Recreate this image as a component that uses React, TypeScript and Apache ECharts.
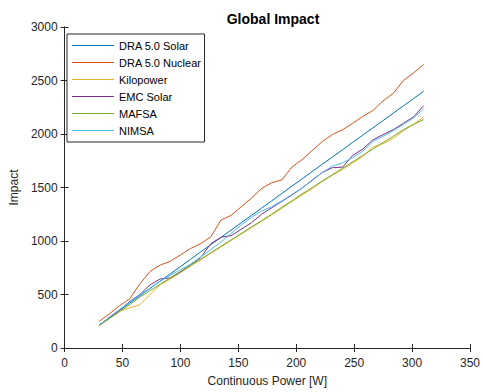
import React, { useEffect, useRef } from "react";
import * as echarts from "echarts";

const powerW = [
  30, 38.75, 47.5, 56.25, 65, 73.75, 82.5, 91.25, 100, 108.75, 117.5, 126.25, 135, 143.75, 152.5,
  161.25, 170, 178.75, 187.5, 196.25, 205, 213.75, 222.5, 231.25, 240, 248.75, 257.5, 266.25, 275,
  283.75, 292.5, 301.25, 310,
];

const draSolar = [
  215, 283, 351, 420, 488, 556, 625, 693, 761, 829, 898, 966, 1034, 1102, 1171, 1239, 1307, 1375,
  1444, 1512, 1580, 1649, 1717, 1785, 1853, 1922, 1990, 2058, 2126, 2195, 2263, 2331, 2400,
];
const draNuclear = [
  250, 320, 395, 460, 600, 715, 775, 810, 870, 930, 975, 1040, 1195, 1240, 1320, 1400, 1490, 1545,
  1570, 1690, 1760, 1845, 1930, 1995, 2040, 2100, 2165, 2220, 2310, 2380, 2500, 2570, 2650,
];
const kilopower = [
  210, 280, 345, 375, 405, 500, 590, 645, 705, 765, 825, 885, 945, 1005, 1065, 1125, 1185, 1245,
  1305, 1370, 1430, 1490, 1555, 1615, 1670, 1730, 1790, 1880, 1910, 1960, 2030, 2090, 2160,
];
const emcSolar = [
  215, 285, 355, 435, 500, 590, 645, 655, 710, 775, 845, 975, 1035, 1050, 1110, 1170, 1250, 1310,
  1370, 1430, 1495, 1570, 1640, 1685, 1690, 1800, 1860, 1945, 1995, 2040, 2100, 2160, 2265,
];
const mafsa = [
  210, 275, 340, 405, 475, 535, 595, 655, 715, 775, 830, 890, 950, 1010, 1070, 1130, 1190, 1250,
  1315, 1375, 1440, 1500, 1560, 1620, 1680, 1740, 1800, 1860, 1920, 1980, 2040, 2090, 2135,
];
const nimsa = [
  215, 290, 360, 430, 495, 560, 625, 680, 730, 785, 850, 920, 990, 1070, 1150, 1220, 1280, 1320,
  1375, 1435, 1495, 1565, 1640, 1700, 1730, 1780, 1840, 1930, 1980, 2030, 2090, 2150, 2235,
];

const seriesNames = ["DRA 5.0 Solar", "DRA 5.0 Nuclear", "Kilopower", "EMC Solar", "MAFSA", "NIMSA"];
const seriesValues = [draSolar, draNuclear, kilopower, emcSolar, mafsa, nimsa];
const seriesColors = ["#0072BD", "#D95319", "#EDB120", "#7E2F8E", "#77AC30", "#4DBEEE"];

const xTicks = { min: 0, max: 350, interval: 50 };
const yTicks = { min: 0, max: 3000, interval: 500 };

const FONT = "'Liberation Sans', Arial, Helvetica, sans-serif";
const AX = "#262626";

export default function App() {
  const ref = useRef<HTMLDivElement>(null);
  useEffect(() => {
    if (!ref.current) return;
    const chart = echarts.init(ref.current, undefined, { renderer: "svg" });
    const axisCommon = {
      type: "value" as const,
      axisLine: { show: true, lineStyle: { color: AX, width: 1 } },
      axisTick: { show: true, inside: true, length: 4, lineStyle: { color: AX } },
      splitLine: { show: false },
    };
    chart.setOption({
      animation: false,
      backgroundColor: "#ffffff",
      textStyle: { fontFamily: FONT },
      title: {
        text: "Global Impact",
        left: 268,
        textAlign: "center",
        top: 7,
        textStyle: { fontSize: 14, fontWeight: "bold", color: "#000", fontFamily: FONT },
      },
      grid: { left: 62, right: 10, top: 27, bottom: 41, containLabel: false },
      legend: {
        orient: "vertical",
        left: 67,
        top: 34,
        padding: [5, 3, 5, 5],
        icon: "rect",
        itemWidth: 42,
        itemHeight: 1,
        itemGap: 4,
        borderColor: AX,
        borderWidth: 1,
        backgroundColor: "#fff",
        textStyle: { fontSize: 11, color: "#000", fontFamily: FONT, lineHeight: 13 },
        data: seriesNames.map((n, i) => ({ name: n, itemStyle: { color: seriesColors[i] } })),
      },
      xAxis: [
        {
          ...axisCommon,
          position: "bottom",
          min: xTicks.min,
          max: xTicks.max,
          interval: xTicks.interval,
          name: "Continuous Power [W]",
          nameLocation: "middle",
          nameGap: 27,
          nameTextStyle: { fontSize: 12, color: AX, fontFamily: FONT },
          axisLabel: { fontSize: 12, color: AX, margin: 9, fontFamily: FONT },
        },
        {
          ...axisCommon,
          position: "top",
          min: xTicks.min,
          max: xTicks.max,
          interval: xTicks.interval,
          axisLabel: { show: false },
        },
      ],
      yAxis: [
        {
          ...axisCommon,
          position: "left",
          min: yTicks.min,
          max: yTicks.max,
          interval: yTicks.interval,
          name: "Impact",
          nameLocation: "middle",
          nameGap: 44,
          nameTextStyle: { fontSize: 12, color: AX, fontFamily: FONT },
          axisLabel: {
            fontSize: 12,
            color: AX,
            margin: 7,
            fontFamily: FONT,
            formatter: (v: number) => String(v),
          },
        },
        {
          ...axisCommon,
          position: "right",
          min: yTicks.min,
          max: yTicks.max,
          interval: yTicks.interval,
          axisLabel: { show: false },
        },
      ],
      series: seriesNames.map((name, i) => ({
        name,
        type: "line",
        xAxisIndex: 0,
        yAxisIndex: 0,
        symbol: "none",
        showSymbol: false,
        color: seriesColors[i],
        lineStyle: { width: 1, color: seriesColors[i] },
        data: powerW.map((x, j) => [x, seriesValues[i][j]]),
      })),
    });
    return () => chart.dispose();
  }, []);
  return (
    <div
      ref={ref}
      style={{ position: "absolute", left: 0, top: 0, width: 483, height: 392, background: "#fff" }}
    />
  );
}
